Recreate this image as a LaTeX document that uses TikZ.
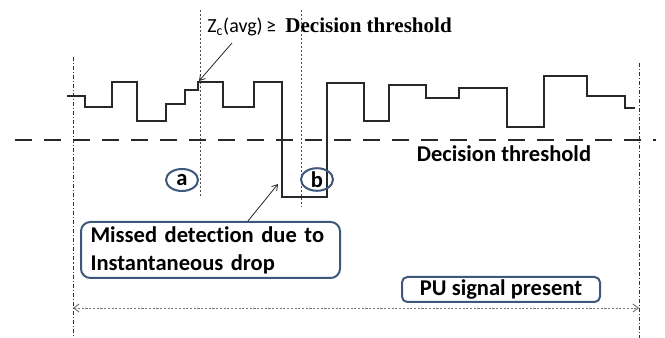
\documentclass[tikz,border=0pt]{standalone}
\usepackage{fontspec}
\setmainfont{Carlito}[Ligatures=NoCommon]
\newfontfamily\tnrfont{Liberation Serif}
\usetikzlibrary{arrows.meta,shapes.geometric}
\definecolor{boxblue}{RGB}{62,88,124}
\definecolor{sig}{RGB}{40,40,40}
\tikzset{
  big/.style={font=\fontsize{16.9pt}{21pt}\selectfont\bfseries},
  sigline/.style={draw=sig,line width=1.5pt},
  thrline/.style={draw=sig,line width=1.5pt,dash pattern=on 12.75pt off 9pt},
  dashdot/.style={draw=black!80,line width=0.6pt,dash pattern=on 3pt off 1.5pt on 0.8pt off 1.5pt},
  dotline/.style={draw=black!70,line width=0.6pt,dash pattern=on 1.5pt off 1.5pt},
  rbox/.style={draw=boxblue,line width=1.5pt,rounded corners=7pt,big,inner sep=0pt},
  oval/.style={ellipse,draw=boxblue,line width=1.5pt,big,inner sep=0pt,minimum width=24pt,minimum height=16.5pt},
  pointer/.style={draw=black!85,line width=0.6pt,-{Straight Barb[length=4pt,width=5pt]}},
  span/.style={draw=black!55,line width=0.7pt,dash pattern=on 1.6pt off 1.2pt,{Straight Barb[length=4pt,width=6pt]}-{Straight Barb[length=4pt,width=6pt]}}
}
\begin{document}
\begin{tikzpicture}[x=0.75pt,y=-0.75pt]
\path[use as bounding box,fill=white] (0,0) rectangle (665,338);
% vertical guide lines
\coordinate (vlt) at (73,57);
\coordinate (vlb) at (73,338);
\coordinate (vrt) at (639,63);
\coordinate (vrb) at (639,338);
\coordinate (vat) at (200,10);
\coordinate (vab) at (200,198);
\coordinate (vbt) at (301,10);
\coordinate (vbb) at (301,207);
\draw[dashdot] (vlt) -- (vlb);
\draw[dashdot] (vrt) -- (vrb);
\draw[dotline] (vat) -- (vab);
\draw[dotline] (vbt) -- (vbb);
% threshold
\coordinate (thl) at (15,140);
\coordinate (thr) at (656,140);
\draw[thrline] (thl) -- (thr);
% signal
\draw[sigline] (67,96) -- (85,96) -- (85,107) -- (112,107) -- (112,82) -- (137,82) -- (137,121) -- (166,121) -- (166,104) -- (185,104) -- (185,90) -- (198,90) -- (198,82) -- (223,82) -- (223,107) -- (254,107) -- (254,82) -- (282,82) -- (282,197) -- (327,197) -- (327,83) -- (364,83) -- (364,121) -- (389,121) -- (389,85) -- (426,85) -- (426,98) -- (459,98) -- (459,88) -- (507,88) -- (507,127) -- (544,127) -- (544,76) -- (587,76) -- (587,96) -- (625,96) -- (625,108) -- (635,108);
% top label
\node[anchor=base west,inner sep=0pt] (zc) at (207,33)
  {\fontsize{15pt}{18pt}\selectfont Z\textsubscript{c}(avg)\,≥\hspace{7pt}{\fontsize{15.8pt}{18pt}\selectfont\tnrfont\bfseries Decision threshold}};
\coordinate (zctail) at (232,43);
\coordinate (zchead) at (199,81);
\draw[pointer] (zctail) -- (zchead);
% threshold label
\node[big,inner sep=0pt] (thlab) at (504,154) {Decision threshold};
% ovals
\node[oval] (a) at (182,180) {a};
\node[oval] (b) at (317,179.5) {b};
% missed detection box
\node[rbox,minimum width=194.25pt,minimum height=42pt,text width=180pt,align=left] (miss) at (210.5,250)
  {Missed detection due to\\Instantaneous drop};
\coordinate (misshead) at (278,184);
\draw[pointer] (miss.north -| 248,0) -- (misshead);
% PU box
\node[rbox,rounded corners=4pt,minimum width=148.5pt,minimum height=18.75pt] (pu) at (501,289.5) {PU signal present};
% span arrow
\coordinate (spl) at (73,308);
\coordinate (spr) at (639,308);
\draw[span] (spl) -- (spr);
\end{tikzpicture}
\end{document}
